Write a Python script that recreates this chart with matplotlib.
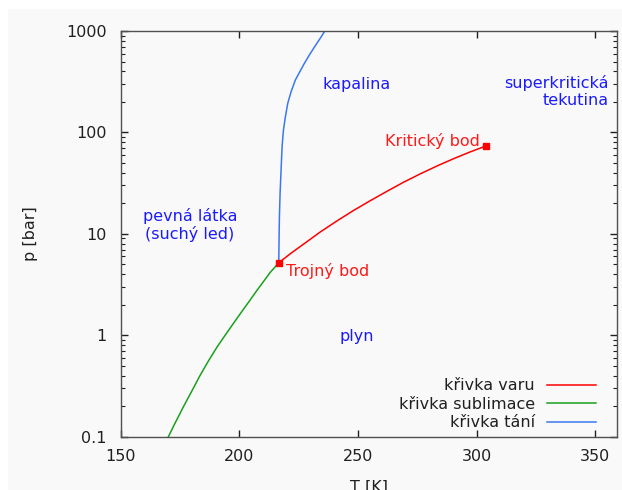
import matplotlib
matplotlib.use("Agg")
import matplotlib.pyplot as plt
from matplotlib.patches import Rectangle
from matplotlib.ticker import LogLocator, FixedLocator, FixedFormatter, NullFormatter

# ---- data ----
sub_T = [170.1, 172.9, 176.4, 179.9, 183.4, 186.9, 190.5, 194.0, 197.5, 201.0,
         204.5, 207.3, 210.1, 212.9, 216.6]
sub_p = [0.1, 0.136, 0.197, 0.28, 0.40, 0.555, 0.76, 1.0, 1.31, 1.71,
         2.22, 2.75, 3.37, 4.14, 5.18]

var_T = [216.6, 221.4, 227.0, 234.0, 241.1, 248.1, 255.1, 262.1, 269.1, 276.2,
         283.2, 290.2, 297.3, 304.1]
var_p = [5.18, 6.35, 7.9, 10.4, 13.4, 17.0, 21.2, 26.2, 32.2, 39.0,
         46.6, 55.0, 64.3, 73.8]

tani_T = [216.6, 216.74, 216.88, 217.16, 217.58, 218.0, 218.57, 219.4, 220.4,
          221.8, 223.6, 225.3, 227.4, 229.5, 232.3, 234.4, 236.0]
tani_p = [5.18, 9.4, 14.8, 25.1, 42.6, 72.3, 105.6, 143.0, 194.0,
          252.0, 329.0, 390.0, 480.0, 580.0, 735.0, 870.0, 1000.0]

triple = (216.6, 5.18)
critical = (304.1, 73.8)

x_ticks = [150, 200, 250, 300, 350]
y_ticks = [0.1, 1, 10, 100, 1000]
y_labels = ["0.1", "1", "10", "100", "1000"]

FS = 11.5
BG = "#f9f9f9"
plt.rcParams['font.family'] = ['DejaVu Sans']

fig = plt.figure(figsize=(6.22, 4.90), dpi=100)
fig.patch.set_facecolor("white")
fig.patches.append(Rectangle((8 / 622, 0), 1, 1 - 9 / 490, transform=fig.transFigure,
                             facecolor=BG, edgecolor="none", zorder=-10))

ax = fig.add_axes([120.7 / 622, 1 - 436.7 / 490, (616.7 - 120.7) / 622, (436.7 - 31) / 490])
ax.set_facecolor(BG)

ax.plot(var_T, var_p, color="#ff0000", lw=1.1, label="křivka varu")
ax.plot(sub_T, sub_p, color="#1aa01a", lw=1.1, label="křivka sublimace")
ax.plot(tani_T, tani_p, color="#3a78f0", lw=1.1, label="křivka tání")
ax.plot([triple[0], critical[0]], [triple[1], critical[1]], ls="none", marker="s",
        ms=4, color="#ff0000")

ax.set_yscale("log")
ax.set_xlim(150, 359)
ax.set_ylim(0.1, 1000)

ax.xaxis.set_major_locator(FixedLocator(x_ticks))
ax.yaxis.set_major_locator(FixedLocator(y_ticks))
ax.yaxis.set_major_formatter(FixedFormatter(y_labels))
ax.yaxis.set_minor_locator(LogLocator(base=10, subs=range(2, 10)))
ax.yaxis.set_minor_formatter(NullFormatter())
ax.tick_params(which="both", direction="in", top=True, right=True, color="#202020",
               labelsize=FS, labelcolor="#202020")
ax.tick_params(which="major", length=5, width=1)
ax.tick_params(which="minor", length=3, width=0.8)
ax.tick_params(axis="y", which="major", pad=10)
ax.tick_params(axis="x", which="major", pad=9)
for s in ax.spines.values():
    s.set_color("#505050")
    s.set_linewidth(1.0)

ax.set_xlabel("T [K]", fontsize=FS, color="#202020", labelpad=11)
ax.set_ylabel("p [bar]", fontsize=FS, color="#202020", labelpad=20)

blue = "#1a1aff"
red = "#ff1a1a"
ax.text(179.2, 12.2, "pevná látka\n(suchý led)", color=blue, fontsize=FS,
        ha="center", va="center", linespacing=1.2)
ax.text(249.5, 300, "kapalina", color=blue, fontsize=FS, ha="center", va="center")
ax.text(355.6, 253, "superkritická\ntekutina", color=blue, fontsize=FS,
        ha="right", va="center", multialignment="right", linespacing=1.2)
ax.text(249.5, 0.98, "plyn", color=blue, fontsize=FS, ha="center", va="center")
ax.text(301.5, 82, "Kritický bod", color=red, fontsize=FS, ha="right", va="center")
ax.text(219.7, 4.3, "Trojný bod", color=red, fontsize=FS, ha="left", va="center")

leg = ax.legend(loc="lower right", frameon=False, fontsize=FS, markerfirst=False,
                handlelength=3.1, handletextpad=0.75, labelspacing=0.22,
                borderaxespad=0.0, bbox_to_anchor=(0.972, 0.0))
for col in leg._legend_handle_box.get_children():
    col.align = "right"
for t in leg.get_texts():
    t.set_color("#202020")

fig.savefig("out.png", dpi=100, facecolor=fig.get_facecolor())
